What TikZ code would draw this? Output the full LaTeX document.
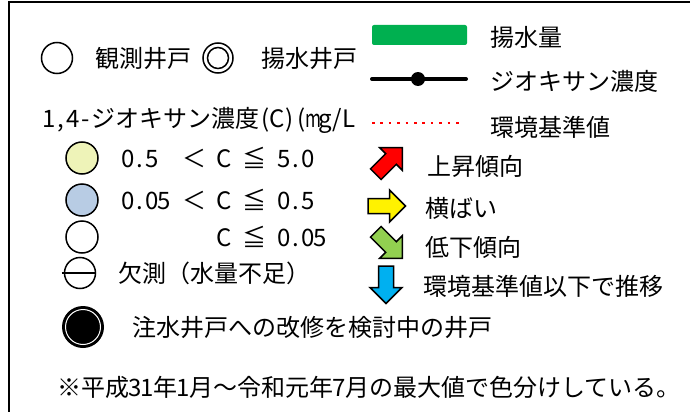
\documentclass[tikz,border=0pt]{standalone}
\usepackage{fontspec}
\usepackage{graphicx}
\setmainfont{Noto Sans CJK JP}
\definecolor{qgreen}{HTML}{00B050}
\definecolor{cyel}{HTML}{EEF3B8}
\definecolor{cblue}{HTML}{B8CCE4}
\definecolor{agreen}{HTML}{92D050}
\definecolor{ablue}{HTML}{00B0F0}
\newcommand\Hc[1]{\makebox[12pt][c]{#1}}
\newcommand\Fc[1]{\makebox[24pt][c]{#1}}
\begin{document}
\begin{tikzpicture}[x=1pt,y=-1pt,
  txt/.style={anchor=base west, inner sep=0pt, font=\fontsize{24}{28}\selectfont},
  well/.style={circle, draw, line width=1.5pt, minimum size=31pt, inner sep=0pt},
  barrow/.style={draw=black, line width=1.5pt, line join=miter},
  pics/blkarrow/.style={code={\filldraw[barrow, fill=#1] (-18.5,-7.5) -- (3,-7.5) -- (3,-16) -- (19,0) -- (3,16) -- (3,7.5) -- (-18.5,7.5) -- cycle;}}]
\useasboundingbox (0,0) rectangle (690,412);
% frame
\coordinate (tr) at (690,2);
\coordinate (tl) at (9,2);
\coordinate (bl) at (9,412);
\draw[line width=2.5pt] (tr) -- (tl) -- (bl);
% row 1
\node[well] (obs) at (57,58) {};
\node[txt] (obsT) at (95,67) {観測井戸};
\node[well, minimum size=30pt] (pump) at (218,58) {};
\node[circle, draw, line width=1.5pt, minimum size=21pt, inner sep=0pt] (pumpin) at (pump.center) {};
\node[txt] (pumpT) at (261,67) {揚水井戸};
% right legend
\node[fill=qgreen, rounded corners=2pt, minimum width=95pt, minimum height=20pt, inner sep=0pt] (qbar) at (419.5,35) {};
\node[txt] (qT) at (490,46) {揚水量};
\coordinate (c1) at (372,79);
\coordinate (c2) at (466,79);
\draw[line width=4pt, line cap=round] (c1) -- (c2);
\node[circle, fill=black, minimum size=14pt, inner sep=0pt] (cdot) at (418,79) {};
\node[txt] (cT) at (490,90) {ジオキサン濃度};
\coordinate (e1) at (372,123);
\coordinate (e2) at (462,123);
\draw[red, line width=2.6pt, dash pattern=on 2.6pt off 5.8pt] (e1) -- (e2);
\node[txt] (eT) at (490,136) {環境基準値};
% concentration legend
\node[txt] (head) at (43,127) {\Hc{1}\Hc{,}\Hc{4}\Hc{-}ジオキサン濃度\Hc{(}\Hc{C}\Hc{)}\Hc{(}\Hc{\scalebox{0.72}[1]{m}}\Hc{g}\Hc{/}\Hc{L}};
\node[well, fill=cyel, minimum size=32pt] (w1) at (82,158) {};
\node[txt] (r1) at (122,167) {\Hc{0}\Hc{.}\Hc{5}\Hc{}\Hc{}\Fc{＜}\Hc{}\Hc{C}\Hc{}\Fc{≦}\Hc{}\Hc{5}\Hc{.}\Hc{0}};
\node[well, fill=cblue, minimum size=32pt] (w2) at (82,200) {};
\node[txt] (r2) at (122,209) {\Hc{0}\Hc{.}\Hc{0}\Hc{5}\Hc{}\Fc{＜}\Hc{}\Hc{C}\Hc{}\Fc{≦}\Hc{}\Hc{0}\Hc{.}\Hc{5}};
\node[well, minimum size=32pt] (w3) at (82,237) {};
\node[txt] (r3) at (218,246) {\Hc{C}\Hc{}\Fc{≦}\Hc{}\Hc{0}\Hc{.}\Hc{0}\Hc{5}};
\node[well, minimum size=31pt] (w4) at (80,273) {};
\draw[line width=2.5pt] ([xshift=-2pt]w4.west) -- (w4.east);
\node[txt] (r4) at (118,282) {欠測（水量不足）};
% trend arrows
\pic[rotate=45] at (388.9,161.1) {blkarrow=red};
\node[txt] (a1) at (427,175) {上昇傾向};
\pic at (386.5,206) {blkarrow=yellow};
\node[txt] (a2) at (425,217) {横ばい};
\pic[rotate=-45] at (388.9,244.9) {blkarrow=agreen};
\node[txt] (a3) at (425,256) {低下傾向};
\pic[rotate=-90] at (386,284.5) {blkarrow=ablue};
\node[txt] (a4) at (423,295) {環境基準値以下で推移};
% injection well
\node[circle, fill=black, minimum size=42pt, inner sep=0pt] (inj) at (83,327) {};
\node[circle, draw=white, line width=1pt, minimum size=35pt, inner sep=0pt] (injin) at (inj.center) {};
\node[txt] (injT) at (132,336) {注水井戸への改修を検討中の井戸};
% footnote
\node[txt] (foot) at (57,396) {※平成\Hc{3}\Hc{1}年\Hc{1}月～令和元年\Hc{7}月の最大値で色分けしている。};
\end{tikzpicture}
\end{document}
